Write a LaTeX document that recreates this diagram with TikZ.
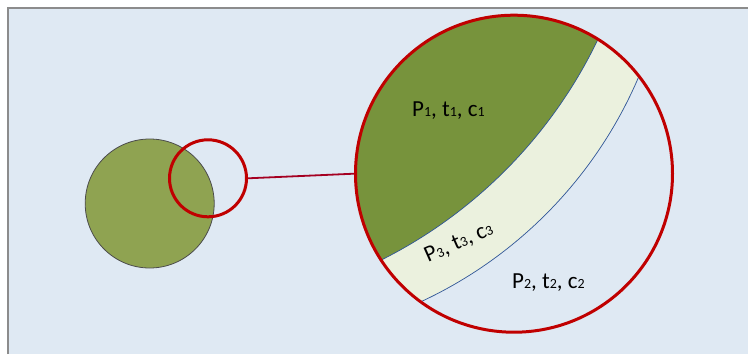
\documentclass[tikz,border=0pt]{standalone}
\usepackage{fontspec}
\setmainfont{Carlito}
\definecolor{bgblue}{HTML}{DFE9F3}
\definecolor{framegray}{HTML}{8C8C8C}
\definecolor{oliveA}{HTML}{8FA351}
\definecolor{darkolive}{HTML}{77933C}
\definecolor{paleolive}{HTML}{EBF1DE}
\definecolor{edgeblue}{HTML}{2F5597}
\definecolor{zoomred}{HTML}{C00000}
\definecolor{linkred}{HTML}{A50021}
\newcommand{\sbx}[1]{{\fontsize{14}{14}\selectfont #1}}
\begin{document}
\begin{tikzpicture}[x=1pt,y=-1pt,
  lbl/.style={font=\fontsize{23}{23}\selectfont, text=black, inner sep=0pt},
  redring/.style={draw=zoomred, circle, inner sep=0pt, line width=3pt},
  edgeline/.style={draw=edgeblue, line width=0.7pt}]
\useasboundingbox (0,0) rectangle (748,354);
\fill[white] (0,0) rectangle (748,354);
\fill[bgblue] (8,8) rectangle (748,354);
\draw[framegray, line width=1.8pt] (8,354) -- (8,8) -- (748,8);

\node[draw=black!70, fill=oliveA, circle, minimum size=129pt, inner sep=0pt, line width=0.8pt] (bigdot) at (149.7,203.5) {};
\node[redring, minimum size=77pt] (lens) at (208,178.3) {};

\coordinate (zc) at (514,173.7);
\begin{scope}
  \clip (zc) circle[radius=158pt];
  \fill[paleolive] (237.7,-93.6) circle[radius=435.6pt];
  \draw[edgeline] (237.7,-93.6) circle[radius=435.6pt];
  \fill[darkolive] (168.3,-165.8) circle[radius=476pt];
  \draw[edgeline] (168.3,-165.8) circle[radius=476pt];
\end{scope}
\node[redring, minimum size=317pt] (zoom) at (zc) {};

\draw[linkred, line width=1.8pt] (lens.east) -- (zoom.west);

\node[lbl, anchor=base west] (t1) at (412,116) {P\sbx{1}, t\sbx{1}, c\sbx{1}};
\node[lbl, anchor=base west] (t2) at (512,288) {P\sbx{2}, t\sbx{2}, c\sbx{2}};
\node[lbl, anchor=base west, rotate=24] (t3) at (428,263) {P\sbx{3}, t\sbx{3}, c\sbx{3}};
\end{tikzpicture}
\end{document}
